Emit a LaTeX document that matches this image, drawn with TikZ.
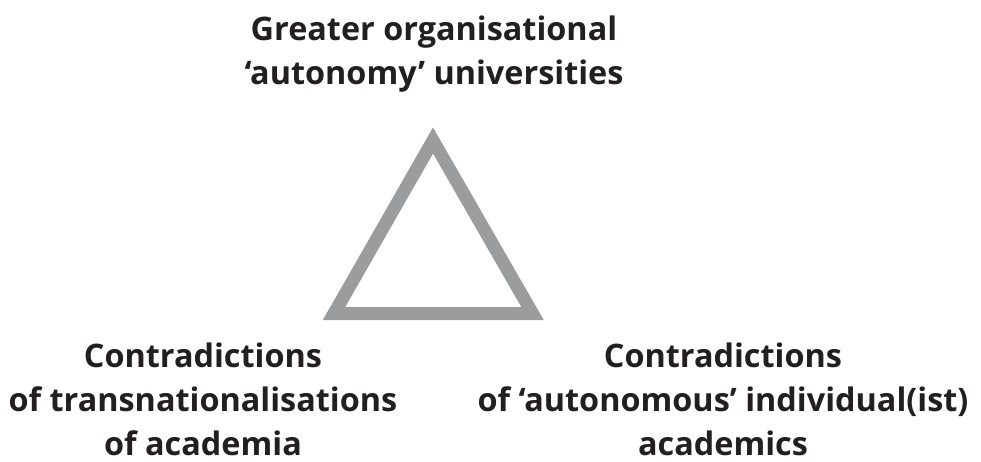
\documentclass[tikz,border=0pt]{standalone}
\usepackage{fontspec}
\setmainfont{Open Sans}
\definecolor{tri}{HTML}{9B9C9E}
\definecolor{ink}{HTML}{231F20}
\begin{document}
\begin{tikzpicture}[x=1pt,y=-1pt,
  lbl/.style={align=center,text=ink,inner sep=0pt,font=\fontsize{32.4}{44}\selectfont\bfseries},
  tri/.style={draw=tri,line width=13pt,line join=miter}]
\useasboundingbox (0,0) rectangle (981,462);
\coordinate (A) at (433,140.5);
\coordinate (B) at (334,313.5);
\coordinate (C) at (532.5,313.5);
\draw[tri] (A) -- (B) -- (C) -- cycle;
\node[lbl,anchor=base] (top) at (434,85) {Greater organisational\\‘autonomy’ universities};
\node[lbl,anchor=base] (left) at (203,455) {Contradictions\\of transnationalisations\\of academia};
\node[lbl,anchor=base] (right) at (723,455) {Contradictions\\of ‘autonomous’ individual(ist)\\academics};
\end{tikzpicture}
\end{document}
